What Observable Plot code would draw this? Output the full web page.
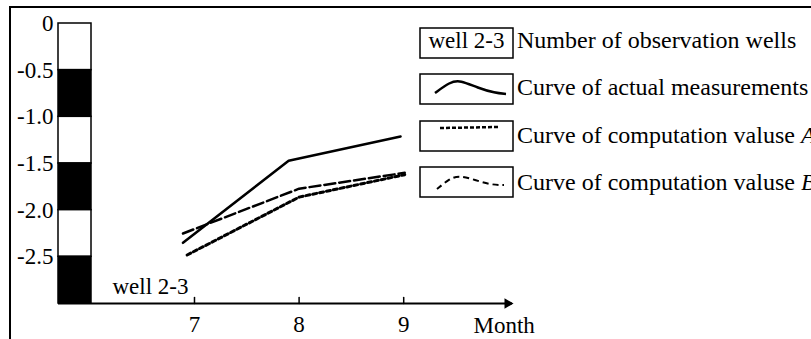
<!DOCTYPE html>
<html>
<head>
<meta charset="utf-8">
<script src="https://cdn.jsdelivr.net/npm/d3@7"></script>
<script src="https://cdn.jsdelivr.net/npm/@observablehq/plot@0.6"></script>
<style>
  html, body { margin: 0; padding: 0; background: #fff; }
  #wrap { position: relative; width: 811px; height: 339px; overflow: hidden; background: #fff; font-family: 'Liberation Serif', 'DejaVu Serif', serif; }
  #border { position: absolute; left: 9px; top: 6px; width: 900px; height: 500px; border-top: 2px solid #000; border-left: 2px solid #000; }
  #chart, #legend { position: absolute; left: 0; top: 0; }
  #wrap text { font-family: 'Liberation Serif', 'DejaVu Serif', serif; }
</style>
</head>
<body>
<div id="wrap">
  <div id="border"></div>
  <div id="chart"></div>
  <svg id="legend" width="811" height="339"></svg>
</div>
<script>
// ---- data ----
const depthTicks = [0, -0.5, -1.0, -1.5, -2.0, -2.5];
const depthLabels = ["0", "-0.5", "-1.0", "-1.5", "-2.0", "-2.5"];
const strataTop = [0, -0.5, -1.0, -1.5, -2.0, -2.5];
const strataBottom = [-0.5, -1.0, -1.5, -2.0, -2.5, -3.0];
const strataFill = ["white", "black", "white", "black", "white", "black"];
const monthTicks = [7, 8, 9];
const monthsActual = [6.89, 7.9, 8.97];
const actual = [-2.35, -1.47, -1.21];
const monthsA = [6.93, 8.0, 9.01];
const valuesA = [-2.48, -1.86, -1.62];
const monthsB = [6.89, 8.0, 9.01];
const valuesB = [-2.25, -1.77, -1.60];
const wellName = "well 2-3";
const legendLabels = ["Number of observation wells", "Curve of actual measurements", "Curve of computation valuse ", "Curve of computation valuse "];
const legendItalic = ["", "", "A", "B"];

// ---- styles ----
const FONT = "'Liberation Serif', 'DejaVu Serif', serif";
const styleActual = {stroke: "black", strokeWidth: 2.5};
const styleA = {stroke: "black", strokeWidth: 3, strokeDasharray: "4,3"};
const styleB = {stroke: "black", strokeWidth: 2.5, strokeDasharray: "11,4"};

const strata = strataTop.map((t, i) => ({y1: t, y2: strataBottom[i], fill: strataFill[i]}));
const lineData = (xs, ys) => xs.map((x, i) => ({x, y: ys[i]}));

const W = 811, H = 339, mL = 58, mR = 299, mT = 23, mB = 36;
const xDomain = [5.7, 10.04];
const colWidth = 33;

const tickShape = {draw(ctx, l) { ctx.moveTo(0, 0); ctx.lineTo(0, -l); }};

const plot = Plot.plot({
  width: W, height: H,
  marginLeft: mL, marginRight: mR, marginTop: mT, marginBottom: mB,
  style: {fontFamily: FONT, fontSize: "23px", background: "transparent", overflow: "visible"},
  x: {domain: xDomain, label: null},
  y: {domain: [-3, 0], label: null},
  marks: [
    Plot.rect(strata, {y1: "y1", y2: "y2", fill: "fill", stroke: "black", strokeWidth: 1.5, insetRight: (W - mL - mR) - colWidth}),
    Plot.ruleY([-3], {stroke: "black", strokeWidth: 2}),
    Plot.dot([xDomain[1]], {x: d => d, y: () => -3, symbol: "triangle2", rotate: 90, r: 5, fill: "black", stroke: "none", dx: -5}),
    Plot.vector(monthTicks, {x: d => d, y: () => -3, length: 6, rotate: 0, anchor: "start", shape: tickShape, stroke: "black", strokeWidth: 1.5}),
    Plot.axisX({ticks: monthTicks, tickSize: 0, tickPadding: 12, label: null, tickFormat: d => String(d), fill: "black", fontSize: 23}),
    Plot.axisY({ticks: depthTicks, tickSize: 0, tickPadding: 5, label: null, tickFormat: d => depthLabels[depthTicks.indexOf(d)], fill: "black", fontSize: 23}),
    Plot.line(lineData(monthsActual, actual), {x: "x", y: "y", ...styleActual}),
    Plot.line(lineData(monthsA, valuesA), {x: "x", y: "y", ...styleA}),
    Plot.line(lineData(monthsB, valuesB), {x: "x", y: "y", ...styleB}),
    Plot.text([wellName], {frameAnchor: "bottom-left", dx: 54, dy: -10, textAnchor: "start", lineAnchor: "bottom", fontSize: 23, fill: "black"}),
    Plot.text(["Month"], {frameAnchor: "bottom-right", dx: -39, dy: 29, textAnchor: "start", lineAnchor: "bottom", fontSize: 23, fill: "black"})
  ]
});
document.getElementById("chart").appendChild(plot);

// ---- legend ----
const svg = d3.select("#legend");
const boxX = 420, boxW = 93, boxH = 30;
const rowTops = [28, 74, 121, 167];
const baselines = [48, 95, 143, 190];
rowTops.forEach((t, i) => {
  svg.append("rect").attr("x", boxX).attr("y", t).attr("width", boxW).attr("height", boxH)
    .attr("fill", "white").attr("stroke", "black").attr("stroke-width", 1.5);
  const tx = svg.append("text").attr("x", boxX + boxW + 4).attr("y", baselines[i])
    .attr("font-family", FONT).attr("font-size", 24).attr("fill", "black").text(legendLabels[i]);
  if (legendItalic[i]) tx.append("tspan").attr("font-style", "italic").text(legendItalic[i]);
});
svg.append("text").attr("x", boxX + boxW / 2).attr("y", baselines[0]).attr("text-anchor", "middle")
  .attr("font-family", FONT).attr("font-size", 23).text(wellName);
const curve = d3.line().curve(d3.curveBasis);
const apply = (p, s) => p.attr("fill", "none").attr("stroke", s.stroke).attr("stroke-width", s.strokeWidth)
  .attr("stroke-dasharray", s.strokeDasharray || null);
apply(svg.append("path").attr("d", curve([[435, 93], [450, 82], [460, 80], [478, 88], [495, 93], [506, 94]])), styleActual);
apply(svg.append("path").attr("d", d3.line()([[440, 128], [499, 127]])), {stroke: "black", strokeWidth: 2.5, strokeDasharray: "4,2"});
apply(svg.append("path").attr("d", curve([[437, 189], [448, 180], [458, 175], [475, 180], [492, 185], [504, 185]])), {stroke: "black", strokeWidth: 2, strokeDasharray: "6,4"});
</script>
</body>
</html>
